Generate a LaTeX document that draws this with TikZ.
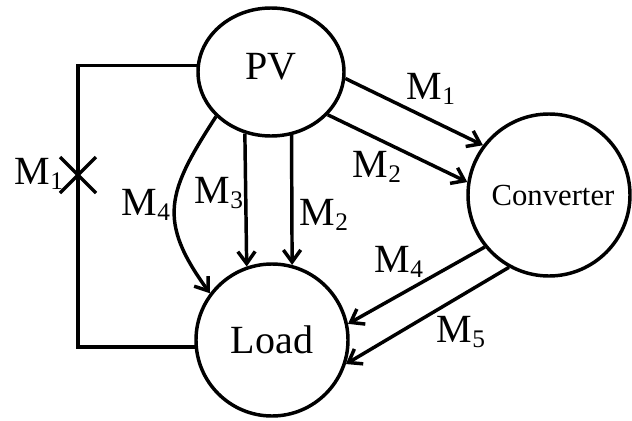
\documentclass[tikz,border=0pt]{standalone}
\usepackage{fontspec}
\setmainfont{Liberation Serif}
\usetikzlibrary{arrows.meta,shapes.geometric}
\newcommand{\Msub}[1]{M\raisebox{-4pt}{\fontsize{19}{19}\selectfont #1}}
\begin{document}
\begin{tikzpicture}[x=0.75pt,y=0.75pt,yscale=-1,xscale=1,
	line width=2.6pt,
	flow/.style={-{Straight Barb[length=9pt,width=13pt]}},
	lbl/.style={anchor=base west,inner sep=0pt,font=\fontsize{30}{36}\selectfont}]
	\useasboundingbox (0,0) rectangle (632,421);

	%Shape: Ellipse
	\draw (271,72) node (pv) [ellipse,draw,minimum width=109.5pt,minimum height=96pt,inner sep=0pt,font=\fontsize{30}{36}\selectfont] {\raisebox{8pt}{PV}};
	%Shape: Circle
	\draw (549,195) node (conv) [circle,draw,minimum size=121.5pt,inner sep=0pt,font=\fontsize{23}{28}\selectfont] {\hspace{6pt}Converter};
	%Shape: Circle
	\draw (272,340) node (load) [circle,draw,minimum size=114pt,inner sep=0pt,font=\fontsize{30}{36}\selectfont] {Load};

	\coordinate (cut) at (78,175);

	%Straight Lines
	\draw [flow] (pv.-5) -- (conv.143);
	\draw [flow] (pv.-37) -- (conv.171);
	\draw [flow] (pv.247) -- (load.109);
	\draw [flow] (pv.288) -- (load.75);
	%Curve Lines (angles flipped by yscale=-1)
	\draw [flow] (pv.219) to [out=123,in=234,looseness=1.3] (load.143);
	%Straight Lines
	\draw [flow] (conv.219) -- (load.12);
	\draw [flow] (conv.241) -- (load.-18);
	%Straight Lines
	\draw (pv.175) -| (cut) |- (load.185);
	\draw ([shift={(-18,-18)}]cut) -- ([shift={(18,18)}]cut);
	\draw ([shift={(-18,18)}]cut) -- ([shift={(18,-18)}]cut);

	% Text Node
	\draw (13,184) node (m1cut) [lbl] {\Msub{1}};
	% Text Node
	\draw (405,99) node (m1top) [lbl] {\Msub{1}};
	% Text Node
	\draw (351,177) node (m2diag) [lbl] {\Msub{2}};
	% Text Node
	\draw (120,215) node (m4pv) [lbl] {\Msub{4}};
	% Text Node
	\draw (193,203) node (m3) [lbl] {\Msub{3}};
	% Text Node
	\draw (298,225) node (m2down) [lbl] {\Msub{2}};
	% Text Node
	\draw (373,272) node (m4conv) [lbl] {\Msub{4}};
	% Text Node
	\draw (435,342) node (m5) [lbl] {\Msub{5}};

\end{tikzpicture}
\end{document}
